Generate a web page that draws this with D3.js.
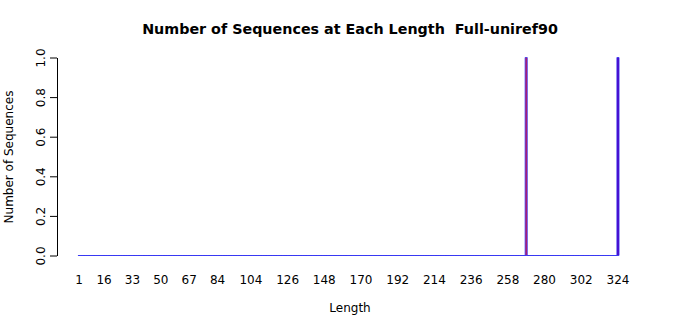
<!DOCTYPE html>
<html>
<head>
<meta charset="utf-8">
<script src="https://cdn.jsdelivr.net/npm/d3@7"></script>
<style>
  body { margin: 0; background: #fff; }
  text { font-family: "DejaVu Sans", sans-serif; fill: #000; }
</style>
</head>
<body>
<div id="chart"></div>
<script>
// lengths 1..324, every count is 0 except the ones listed
var firstLength = 1, lastLength = 324
var hitLengths = [269, 324]
var hitCounts = [1, 1]
var hitFills = ["#c2185b", "#5000c0"]
var xTickLabels = [1, 16, 33, 50, 67, 84, 104, 126, 148, 170, 192, 214, 236, 258, 280, 302, 324]
var yTicks = [0, 0.2, 0.4, 0.6, 0.8, 1.0]

var width = 700, height = 315
var lengths = d3.range(firstLength, lastLength + 1)
var bars = lengths.map(function(len){
  var i = hitLengths.indexOf(len)
  return { len: len, count: i < 0 ? 0 : hitCounts[i], fill: i < 0 ? "none" : hitFills[i] }
})

var svg = d3.select("#chart").append("svg")
    .attr("width", width)
    .attr("height", height)

var xScale = d3.scaleBand()
    .domain(lengths)
    .range([78.2, 618.8])
    .paddingInner(0.2)
    .paddingOuter(0.1)

var yScale = d3.scaleLinear()
    .domain([0, 1])
    .range([255.5, 57.5])

// bars drawn as paths so zero height bars still show their border
svg.append("g").selectAll("path")
    .data(bars)
  .enter().append("path")
    .attr("d", function(d){
      var x0 = xScale(d.len) - 0.4, x1 = xScale(d.len) + xScale.bandwidth() + 0.4
      var y0 = yScale(0), y1 = yScale(d.count)
      return "M" + x0 + "," + y0 + "H" + x1 + "V" + y1 + "H" + x0 + "Z"
    })
    .attr("fill", function(d){ return d.fill })
    .attr("stroke", "#3434f2")
    .attr("stroke-width", 0.8)

// y axis
var yAxis = svg.append("g")
    .attr("transform", "translate(57,0)")
    .call(d3.axisLeft(yScale).tickValues(yTicks).tickFormat(d3.format(".1f")).tickSize(7).tickSizeOuter(0))
yAxis.select(".domain").attr("stroke", "#000")
yAxis.selectAll(".tick line").attr("stroke", "#000")
yAxis.selectAll(".tick text")
    .attr("x", 0).attr("dy", 0)
    .attr("transform", "translate(-16,0) rotate(-90)")
    .attr("text-anchor", "middle")
    .attr("dominant-baseline", "central")
    .style("font-size", "12px")
    .style("font-family", "DejaVu Sans, sans-serif")
    .attr("fill", "#000")

// x labels (bar names)
svg.append("g").selectAll("text")
    .data(xTickLabels)
  .enter().append("text")
    .attr("x", function(d){ return xScale(d) + xScale.bandwidth() / 2 })
    .attr("y", 284)
    .attr("text-anchor", "middle")
    .style("font-size", "12px")
    .text(function(d){ return d })

svg.append("text")
    .attr("x", 350).attr("y", 34)
    .attr("text-anchor", "middle")
    .style("font-size", "14.3px")
    .style("font-weight", "bold")
    .style("white-space", "pre")
    .text("Number of Sequences at Each Length  Full-uniref90")

svg.append("text")
    .attr("x", 350).attr("y", 312)
    .attr("text-anchor", "middle")
    .style("font-size", "12px")
    .text("Length")

svg.append("text")
    .attr("transform", "translate(13,157) rotate(-90)")
    .attr("text-anchor", "middle")
    .style("font-size", "12px")
    .text("Number of Sequences")
</script>
</body>
</html>
